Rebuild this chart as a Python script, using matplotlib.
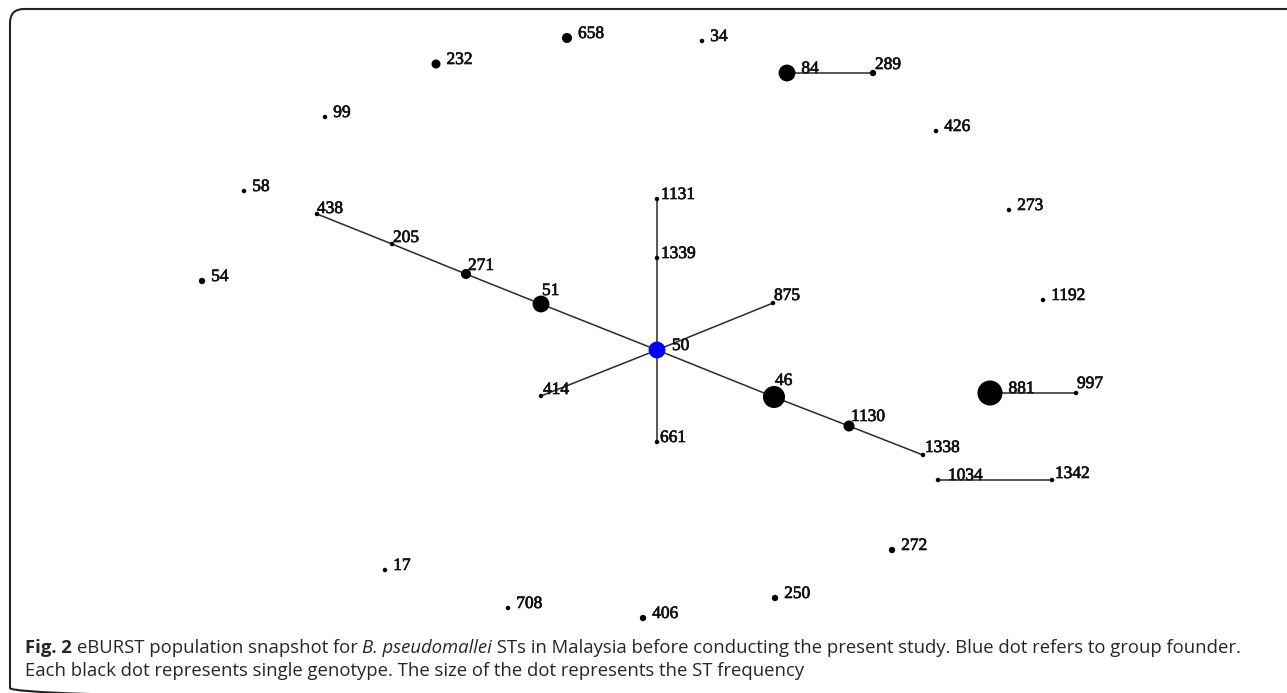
import matplotlib
matplotlib.use("Agg")
import matplotlib.pyplot as plt
import matplotlib.patheffects as pe
from matplotlib.patches import FancyBboxPatch

# eBURST snapshot, layout (pixel units, y down)
st_names = ["658", "34", "232", "84", "289", "99", "426", "58", "438", "205",
            "271", "51", "50", "1131", "1339", "875", "414", "661", "46", "1130",
            "1338", "273", "1192", "54", "881", "997", "1034", "1342", "272", "17",
            "708", "406", "250"]
st_x = [567, 702, 436, 787, 873, 325, 936, 244, 317, 392,
        466, 541, 657, 657, 657, 773, 541, 657, 774, 849,
        923, 1009, 1043, 202, 990, 1076, 938, 1052, 892, 385,
        508, 643, 775]
st_y = [38, 41, 64, 73, 73, 117, 131, 191, 214, 244,
        274, 304, 350, 199, 258, 303, 396, 442, 397, 426,
        455, 210, 300, 281, 393, 393, 480, 480, 550, 570,
        608, 618, 598]
# estimated ST frequency (dot size)
st_freq = [5, 1, 4, 14, 2, 1, 1, 1, 1, 1,
           5, 14, 14, 1, 1, 1, 1, 1, 24, 6,
           1, 1, 1, 2, 31, 1, 1, 1, 2, 1,
           1, 2, 2]
founder = "50"

links = [("50", "1339"), ("1339", "1131"), ("50", "875"), ("50", "414"),
         ("50", "661"), ("50", "51"), ("51", "271"), ("271", "205"),
         ("205", "438"), ("50", "46"), ("46", "1130"), ("1130", "1338"),
         ("84", "289"), ("881", "997"), ("1034", "1342")]

# label offsets (dx, dy) in px from node centre, for nodes on links
label_off = {"438": (0, -1), "205": (1, -2), "271": (2, -4), "51": (1, -9),
             "50": (15, 0), "46": (1, -12), "1130": (2, -5), "1338": (2, -3),
             "1131": (4, 0), "1339": (4, 0), "875": (1, -3), "414": (2, -2),
             "661": (3, 0), "289": (2, -4), "997": (1, -5), "1034": (10, 0),
             "1342": (3, -2)}

W, H = 1287, 693
fig = plt.figure(figsize=(W / 100, H / 100), dpi=100)
ax = fig.add_axes([0, 0, 1, 1])
ax.set_xlim(0, W)
ax.set_ylim(H, 0)
ax.axis("off")

# frame
ax.add_patch(FancyBboxPatch((10, 9), 1300, 693, boxstyle="round,pad=0,rounding_size=14",
                            fill=False, edgecolor="#222222", linewidth=1.5))

pos = {n: (x, y) for n, x, y in zip(st_names, st_x, st_y)}
for a, b in links:
    ax.plot([pos[a][0], pos[b][0]], [pos[a][1], pos[b][1]], color="#2a2a2a", lw=1.1, zorder=1)

diam = [4.5 * f ** 0.5 for f in st_freq]  # px
sizes = [(d * 0.72) ** 2 for d in diam]
colors = ["#0000ff" if n == founder else "black" for n in st_names]
ax.scatter(st_x, st_y, s=sizes, c=colors, linewidths=0, zorder=3)

bold_ish = [pe.withStroke(linewidth=0.5, foreground="#111111")]
for n, x, y, d in zip(st_names, st_x, st_y, diam):
    dx, dy = label_off.get(n, (d / 2 + 6, 0))
    ax.text(x + dx, y + dy, n, fontsize=12.5, family="Liberation Serif",
            ha="left", va="baseline", color="#111111", zorder=4, path_effects=bold_ish)

# caption with mixed styles
renderer = fig.canvas.get_renderer()
cap_lines = [
    [("Fig. 2 ", "bold", "normal"), ("eBURST population snapshot for ", "normal", "normal"),
     ("B. pseudomallei", "normal", "italic"),
     (" STs in Malaysia before conducting the present study. Blue dot refers to group founder.", "normal", "normal")],
    [("Each black dot represents single genotype. The size of the dot represents the ST frequency", "normal", "normal")],
]
cap_y = [653, 676]
for pieces, yb in zip(cap_lines, cap_y):
    xc = 25
    for txt, wt, st in pieces:
        t = ax.text(xc, yb, txt, fontsize=13.3, family="Open Sans", fontweight=wt,
                    fontstyle=st, ha="left", va="baseline", color="#262626")
        xc += t.get_window_extent(renderer=renderer).width

fig.savefig("out.png", dpi=100)
